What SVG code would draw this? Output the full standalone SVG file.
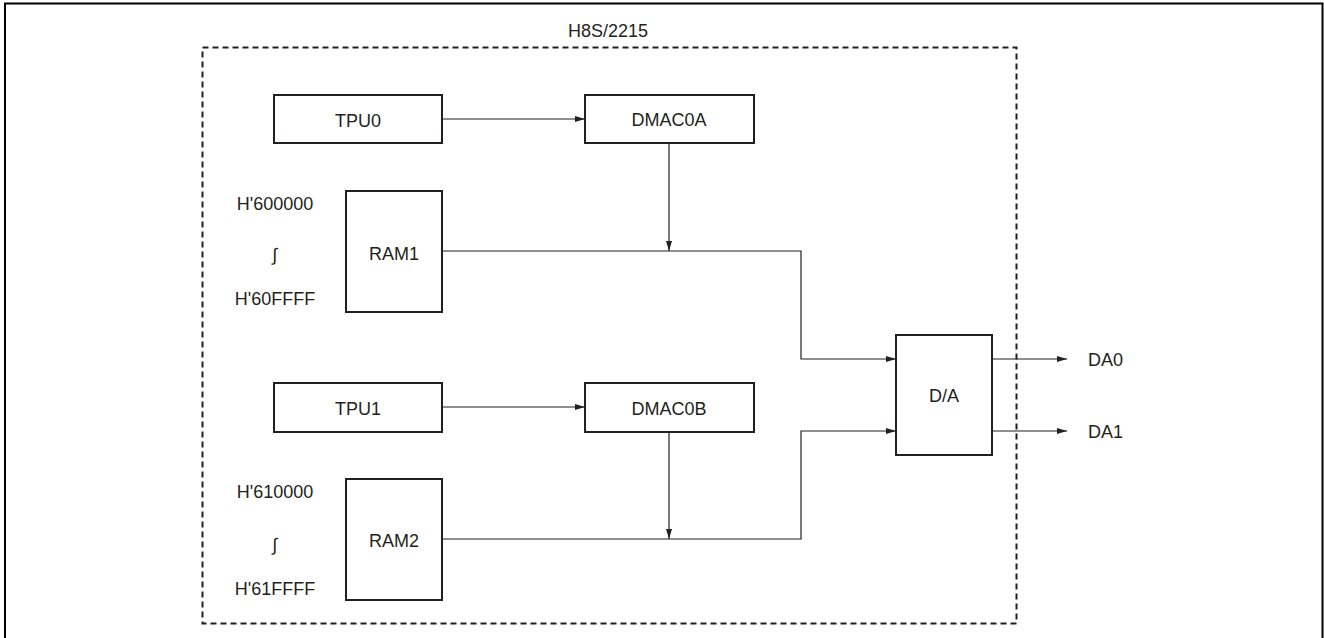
<svg xmlns="http://www.w3.org/2000/svg" width="1324" height="638" viewBox="0 0 1324 638">
<defs>
<marker id="arr" viewBox="0 0 10 6" refX="10" refY="3" markerWidth="10" markerHeight="6" markerUnits="userSpaceOnUse" orient="auto">
<path d="M0,0 L10,3 L0,6 z" fill="#231f20"/>
</marker>
<style>
.box{fill:#fff;stroke:#231f20;stroke-width:2}
.t{font-family:"Liberation Sans",Arial,sans-serif;font-size:18px;fill:#231f20;text-anchor:middle}
.ts{font-family:"Liberation Sans",Arial,sans-serif;font-size:18px;fill:#231f20;text-anchor:start}
.ln{fill:none;stroke:#231f20;stroke-width:1.2}
</style>
</defs>
<rect width="1324" height="638" fill="#fff"/>
<path d="M5,640 V3.5 H1322.5 V640" fill="none" stroke="#000" stroke-width="2"/>
<g id="chip">
<rect x="202.5" y="47.5" width="814" height="576" fill="none" stroke="#231f20" stroke-width="2" stroke-dasharray="6 4"/>
<text class="t" x="608" y="37">H8S/2215</text>
</g>
<g id="connectors">
<line class="ln" x1="442" y1="119" x2="585" y2="119" marker-end="url(#arr)"/>
<line class="ln" x1="669" y1="143" x2="669" y2="251" marker-end="url(#arr)"/>
<polyline class="ln" points="442,251 801,251 801,359 896,359" marker-end="url(#arr)"/>
<line class="ln" x1="442" y1="407" x2="585" y2="407" marker-end="url(#arr)"/>
<line class="ln" x1="669" y1="432" x2="669" y2="539" marker-end="url(#arr)"/>
<polyline class="ln" points="442,539 801,539 801,431 896,431" marker-end="url(#arr)"/>
<line class="ln" x1="992" y1="359" x2="1067" y2="359" marker-end="url(#arr)"/>
<line class="ln" x1="992" y1="431" x2="1067" y2="431" marker-end="url(#arr)"/>
</g>
<g id="tpu0"><rect class="box" x="274" y="95" width="168" height="48"/><text class="t" x="358" y="126.5">TPU0</text></g>
<g id="dmac0a"><rect class="box" x="585" y="95" width="169" height="48"/><text class="t" x="669" y="126">DMAC0A</text></g>
<g id="ram1"><rect class="box" x="346" y="191" width="96" height="121"/><text class="t" x="394" y="260">RAM1</text></g>
<g id="ram1-addr">
<text class="t" x="275" y="210">H'600000</text>
<text class="t" x="275" y="261">∫</text>
<text class="t" x="275" y="305">H'60FFFF</text>
</g>
<g id="tpu1"><rect class="box" x="274" y="383" width="168" height="49"/><text class="t" x="358" y="415">TPU1</text></g>
<g id="dmac0b"><rect class="box" x="585" y="383" width="169" height="49"/><text class="t" x="669" y="415">DMAC0B</text></g>
<g id="ram2"><rect class="box" x="346" y="479" width="96" height="121"/><text class="t" x="394" y="547">RAM2</text></g>
<g id="ram2-addr">
<text class="t" x="275" y="498">H'610000</text>
<text class="t" x="275" y="551">∫</text>
<text class="t" x="275" y="595">H'61FFFF</text>
</g>
<g id="da"><rect class="box" x="896" y="335" width="96" height="120"/><text class="t" x="944" y="402">D/A</text></g>
<g id="da0"><text class="ts" x="1088" y="366">DA0</text></g>
<g id="da1"><text class="ts" x="1088" y="438">DA1</text></g>
</svg>
